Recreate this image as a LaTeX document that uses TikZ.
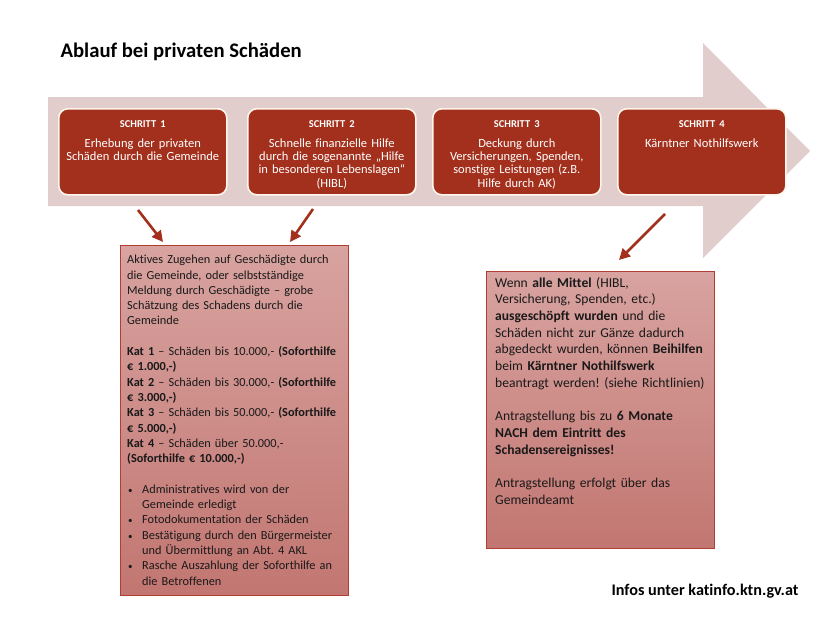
\documentclass[tikz,border=0pt]{standalone}
\usepackage{fontspec}
\setmainfont{Carlito}[Ligatures={TeX,NoCommon}]
\usetikzlibrary{arrows.meta,positioning}
\definecolor{pfeilgrau}{RGB}{224,205,204}
\definecolor{schrittrot}{RGB}{163,48,28}
\definecolor{kastenoben}{RGB}{216,163,160}
\definecolor{kastenunten}{RGB}{194,118,113}
\definecolor{randrot}{RGB}{176,62,50}
\newcommand{\punkt}{\makebox[15pt][l]{\hspace{1pt}{\fontsize{9}{9}\selectfont\textbullet}}}
\frenchspacing

\begin{document}
\begin{tikzpicture}[x=1pt, y=-1pt,
  schrittbox/.style={draw=white!92!orange, line width=1.6pt, fill=schrittrot,
    rounded corners=9pt, minimum width=168pt, minimum height=86pt,
    anchor=north west, inner sep=0pt},
  schritttext/.style={text=white, align=center, text width=166pt, inner sep=0pt,
    anchor=north, font=\fontsize{12.5}{13.3}\selectfont},
  kasten/.style={draw=randrot, line width=0.9pt, top color=kastenoben,
    bottom color=kastenunten, anchor=north west, inner sep=0pt},
  kastentext/.style={align=left, anchor=north west, inner sep=0pt, text=black!90},
  pfeil/.style={draw=schrittrot, line width=2.6pt, -{Triangle[length=11pt,width=11pt]}}
]
\useasboundingbox (0,0) rectangle (835,626);

% Titel
\node[anchor=base west, font=\fontsize{20.7}{24}\selectfont\bfseries] (titel) at (57,58)
  {Ablauf bei privaten Schäden};

% grosser Pfeil
\fill[pfeilgrau] (48,97) -- (703,97) -- (703,43) -- (810,151) -- (703,258)
  -- (703,206) -- (48,206) -- cycle;

% Schritte 1-4
\foreach \n/\x/\txt in {
  1/58/{Erhebung der privaten\\Schäden durch die Gemeinde},
  2/247/{Schnelle finanzielle Hilfe\\durch die sogenannte „Hilfe\\in besonderen Lebenslagen“\\(HIBL)},
  3/432/{Deckung durch\\Versicherungen, Spenden,\\sonstige Leistungen (z.B.\\Hilfe durch AK)},
  4/617/{Kärntner Nothilfswerk}
}
{
  \node[schrittbox] (schritt\n) at (\x,108) {};
  \node[schritttext] (schritttext\n) at ([yshift=-12pt]schritt\n.north)
    {{\fontsize{10.5}{13.3}\selectfont\bfseries SCHRITT \n}\\[7pt]\txt};
}

% Kasten links (Schritt 1 und 2)
\node[kasten, minimum width=228pt, minimum height=350pt] (kasten1) at (120,245) {};
\node[kastentext, text width=218pt, font=\fontsize{12.3}{15.3}\selectfont] (kastentext1)
  at ([xshift=7pt,yshift=-10pt]kasten1.north west) {%
  Aktives Zugehen auf Geschädigte durch\\
  die Gemeinde, oder selbstständige\\
  Meldung durch Geschädigte – grobe\\
  Schätzung des Schadens durch die\\
  Gemeinde\\[15.3pt]
  \textbf{Kat 1} – Schäden bis 10.000,- \textbf{(Soforthilfe}\\
  \textbf{€ 1.000,-)}\\
  \textbf{Kat 2} – Schäden bis 30.000,- \textbf{(Soforthilfe}\\
  \textbf{€ 3.000,-)}\\
  \textbf{Kat 3} – Schäden bis 50.000,- \textbf{(Soforthilfe}\\
  \textbf{€ 5.000,-)}\\
  \textbf{Kat 4} – Schäden über 50.000,-\\
  \textbf{(Soforthilfe € 10.000,-)}\\[15.3pt]
  \punkt Administratives wird von der\\
  \hspace*{15pt}Gemeinde erledigt\\
  \punkt Fotodokumentation der Schäden\\
  \punkt Bestätigung durch den Bürgermeister\\
  \hspace*{15pt}und Übermittlung an Abt. 4 AKL\\
  \punkt Rasche Auszahlung der Soforthilfe an\\
  \hspace*{15pt}die Betroffenen};

% Kasten rechts (Schritt 4)
\node[kasten, minimum width=228pt, minimum height=277pt] (kasten2) at (486,271) {};
\node[kastentext, text width=222pt, font=\fontsize{13.6}{16.7}\selectfont] (kastentext2)
  at ([xshift=9pt,yshift=-6pt]kasten2.north west) {%
  Wenn \textbf{alle Mittel} (HIBL,\\
  Versicherung, Spenden, etc.)\\
  \textbf{ausgeschöpft wurden} und die\\
  Schäden nicht zur Gänze dadurch\\
  abgedeckt wurden, können \textbf{Beihilfen}\\
  beim \textbf{Kärntner Nothilfswerk}\\
  beantragt werden! (siehe Richtlinien)\\[16.7pt]
  Antragstellung bis zu \textbf{6 Monate}\\
  \textbf{NACH dem Eintritt des}\\
  \textbf{Schadensereignisses!}\\[16.7pt]
  Antragstellung erfolgt über das\\
  Gemeindeamt};

% rote Pfeile
\coordinate (von1) at (138,210);
\coordinate (nach1) at (163,242);
\coordinate (von2) at (313,209);
\coordinate (nach2) at (290,242);
\coordinate (von3) at (665,214);
\coordinate (nach3) at (619,260);
\draw[pfeil] (von1) -- (nach1);
\draw[pfeil] (von2) -- (nach2);
\draw[pfeil] (von3) -- (nach3);

% Fusszeile
\node[anchor=base east, font=\fontsize{16.2}{19}\selectfont\bfseries] (infos) at (802,595)
  {Infos unter katinfo.ktn.gv.at};

\end{tikzpicture}
\end{document}
